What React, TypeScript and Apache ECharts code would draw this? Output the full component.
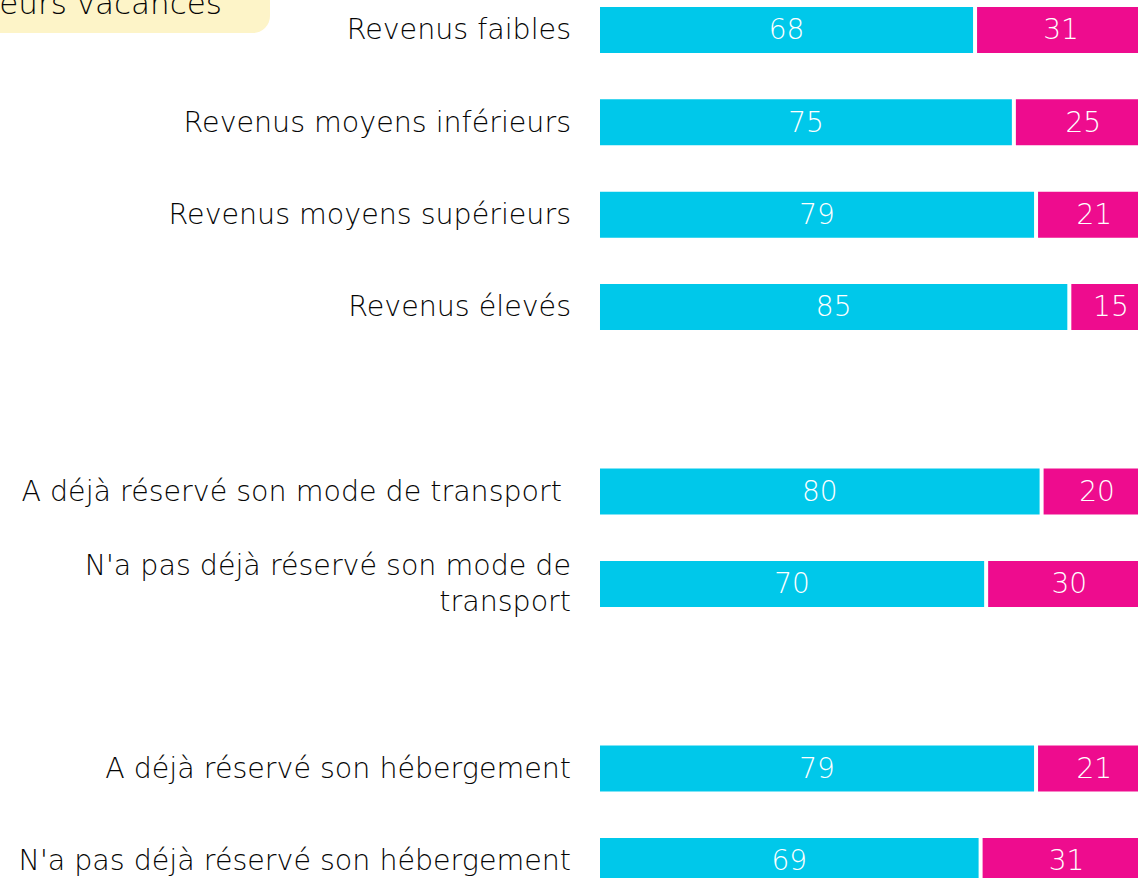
import React, { useEffect, useRef } from "react";
import * as echarts from "echarts";

const categories = [
  "Revenus faibles",
  "Revenus moyens inférieurs",
  "Revenus moyens supérieurs",
  "Revenus élevés",
  " ",
  "A déjà réservé son mode de transport ",
  "N'a pas déjà réservé son mode de\ntransport",
  "  ",
  "A déjà réservé son hébergement",
  "N'a pas déjà réservé son hébergement",
];
const seriesA = [68, 75, 79, 85, null, 80, 70, null, 79, 69];
const seriesB = [31, 25, 21, 15, null, 20, 30, null, 21, 31];
const headerText = "eurs vacances";

const FONT = "'DejaVu Sans', sans-serif";
const OFFSET_Y = 40;

export default function App() {
  const ref = useRef<HTMLDivElement>(null);
  useEffect(() => {
    if (!ref.current) return;
    const chart = echarts.init(ref.current, undefined, { renderer: "svg" });
    const barCommon = {
      type: "bar",
      stack: "total",
      barWidth: 50,
      itemStyle: { borderColor: "#ffffff", borderWidth: 2 },
      label: {
        show: true,
        position: "inside",
        color: "#ffffff",
        fontFamily: FONT,
        fontSize: 28,
        fontWeight: 300,
      },
    };
    chart.setOption({
      animation: false,
      backgroundColor: "#ffffff",
      grid: { left: 598, top: -16.2 + OFFSET_Y, width: 554.5, height: 923.3, containLabel: false },
      xAxis: { type: "value", min: 0, max: 100, show: false },
      yAxis: {
        type: "category",
        data: categories,
        inverse: true,
        axisLine: { show: false },
        axisTick: { show: false },
        splitLine: { show: false },
        axisLabel: {
          color: "#050505",
          fontFamily: FONT,
          fontSize: 28.5,
          fontWeight: 300,
          margin: 27,
          lineHeight: 36,
          align: "right",
        },
      },
      graphic: [
        {
          type: "rect",
          shape: { x: -30, y: -80 + OFFSET_Y, width: 300, height: 113, r: 17 },
          style: { fill: "#fdf4c8" },
        },
        {
          type: "text",
          x: 222,
          y: 18 + OFFSET_Y,
          style: {
            text: headerText,
            fill: "#050505",
            font: `300 31px ${FONT}`,
            textAlign: "right",
            textVerticalAlign: "bottom",
          },
        },
      ],
      series: [
        { ...barCommon, name: "A", data: seriesA, itemStyle: { ...barCommon.itemStyle, color: "#00c8ea" } },
        { ...barCommon, name: "B", data: seriesB, itemStyle: { ...barCommon.itemStyle, color: "#ee0c8e" } },
      ],
    });
    return () => chart.dispose();
  }, []);
  return (
    <div style={{ position: "fixed", left: 0, top: 0, width: 1138, height: 878, overflow: "hidden", background: "#fff" }}>
      <div ref={ref} style={{ position: "absolute", left: 0, top: -OFFSET_Y, width: 1200, height: 960 }} />
    </div>
  );
}
